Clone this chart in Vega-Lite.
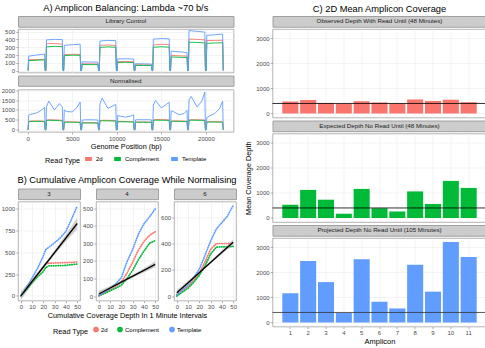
{
"$schema": "https://vega.github.io/schema/vega-lite/v6.json",
"padding": {"left": 0, "top": 3, "right": 0, "bottom": 0},
"background": "white",
"config": {
  "font": "Liberation Sans",
  "view": {"stroke": "#A0A0A0", "strokeWidth": 0.8},
  "axis": {"domain": false, "labelFontSize": 6, "labelColor": "#4D4D4D", "tickColor": "#7F7F7F", "tickSize": 2.2, "tickWidth": 0.6, "labelPadding": 1.2, "gridColor": "#EBEBEB", "gridWidth": 0.6, "titleFontSize": 7.3, "titleFontWeight": "normal", "titleColor": "#000000", "titlePadding": 1.5, "labelFlush": false, "labelOverlap": false},
  "title": {"fontSize": 9.3, "fontWeight": "normal", "color": "#000000"},
  "legend": {"layout": {"bottom": {"anchor": "middle"}}}
},
"datasets": {
  "lc": [
    {"pos":30,"2d":0,"Complement":0,"Template":0},
    {"pos":100,"2d":140,"Complement":128,"Template":185},
    {"pos":980,"2d":142,"Complement":132,"Template":200},
    {"pos":1880,"2d":145,"Complement":138,"Template":212},
    {"pos":1950,"2d":0,"Complement":0,"Template":0},
    {"pos":2030,"2d":0,"Complement":0,"Template":0},
    {"pos":2100,"2d":345,"Complement":305,"Template":395},
    {"pos":2980,"2d":348,"Complement":312,"Template":402},
    {"pos":3880,"2d":340,"Complement":308,"Template":398},
    {"pos":3950,"2d":0,"Complement":0,"Template":0},
    {"pos":4030,"2d":0,"Complement":0,"Template":0},
    {"pos":4100,"2d":205,"Complement":192,"Template":325},
    {"pos":4980,"2d":210,"Complement":198,"Template":332},
    {"pos":5880,"2d":208,"Complement":196,"Template":340},
    {"pos":5950,"2d":0,"Complement":0,"Template":0},
    {"pos":6030,"2d":0,"Complement":0,"Template":0},
    {"pos":6100,"2d":88,"Complement":78,"Template":112},
    {"pos":6980,"2d":87,"Complement":77,"Template":110},
    {"pos":7880,"2d":85,"Complement":76,"Template":108},
    {"pos":7950,"2d":0,"Complement":0,"Template":0},
    {"pos":8030,"2d":0,"Complement":0,"Template":0},
    {"pos":8100,"2d":325,"Complement":298,"Template":380},
    {"pos":8980,"2d":330,"Complement":305,"Template":388},
    {"pos":9880,"2d":322,"Complement":300,"Template":385},
    {"pos":9950,"2d":0,"Complement":0,"Template":0},
    {"pos":10030,"2d":0,"Complement":0,"Template":0},
    {"pos":10100,"2d":115,"Complement":104,"Template":150},
    {"pos":10980,"2d":117,"Complement":106,"Template":152},
    {"pos":11880,"2d":114,"Complement":103,"Template":148},
    {"pos":11950,"2d":0,"Complement":0,"Template":0},
    {"pos":12030,"2d":0,"Complement":0,"Template":0},
    {"pos":12100,"2d":75,"Complement":66,"Template":88},
    {"pos":12980,"2d":74,"Complement":65,"Template":86},
    {"pos":13880,"2d":72,"Complement":64,"Template":84},
    {"pos":13950,"2d":0,"Complement":0,"Template":0},
    {"pos":14030,"2d":0,"Complement":0,"Template":0},
    {"pos":14100,"2d":330,"Complement":300,"Template":405},
    {"pos":14980,"2d":338,"Complement":306,"Template":412},
    {"pos":15880,"2d":335,"Complement":302,"Template":408},
    {"pos":15950,"2d":0,"Complement":0,"Template":0},
    {"pos":16030,"2d":0,"Complement":0,"Template":0},
    {"pos":16100,"2d":195,"Complement":175,"Template":250},
    {"pos":16980,"2d":190,"Complement":171,"Template":242},
    {"pos":17880,"2d":186,"Complement":168,"Template":232},
    {"pos":17950,"2d":0,"Complement":0,"Template":0},
    {"pos":18030,"2d":0,"Complement":0,"Template":0},
    {"pos":18100,"2d":405,"Complement":365,"Template":515},
    {"pos":18980,"2d":402,"Complement":362,"Template":505},
    {"pos":19880,"2d":395,"Complement":356,"Template":495},
    {"pos":19950,"2d":0,"Complement":0,"Template":0},
    {"pos":20030,"2d":0,"Complement":0,"Template":0},
    {"pos":20100,"2d":385,"Complement":350,"Template":455},
    {"pos":20980,"2d":388,"Complement":355,"Template":460},
    {"pos":21880,"2d":390,"Complement":358,"Template":470},
    {"pos":21950,"2d":0,"Complement":0,"Template":0}
  ],
  "norm": [
    {"pos":30,"2d":0,"Complement":0,"Template":0},
    {"pos":100,"2d":430,"Complement":400,"Template":740},
    {"pos":350,"2d":445,"Complement":420,"Template":780},
    {"pos":1000,"2d":450,"Complement":425,"Template":850},
    {"pos":1550,"2d":445,"Complement":420,"Template":1000},
    {"pos":1880,"2d":435,"Complement":410,"Template":1120},
    {"pos":1950,"2d":0,"Complement":0,"Template":0},
    {"pos":2030,"2d":0,"Complement":0,"Template":0},
    {"pos":2100,"2d":495,"Complement":470,"Template":1150},
    {"pos":2350,"2d":505,"Complement":480,"Template":1450},
    {"pos":3000,"2d":500,"Complement":470,"Template":1000},
    {"pos":3550,"2d":490,"Complement":460,"Template":1320},
    {"pos":3880,"2d":480,"Complement":450,"Template":1150},
    {"pos":3950,"2d":0,"Complement":0,"Template":0},
    {"pos":4030,"2d":0,"Complement":0,"Template":0},
    {"pos":4100,"2d":400,"Complement":380,"Template":1000},
    {"pos":4350,"2d":405,"Complement":385,"Template":920},
    {"pos":5000,"2d":400,"Complement":380,"Template":900},
    {"pos":5550,"2d":395,"Complement":375,"Template":1150},
    {"pos":5880,"2d":390,"Complement":370,"Template":1400},
    {"pos":5950,"2d":0,"Complement":0,"Template":0},
    {"pos":6030,"2d":0,"Complement":0,"Template":0},
    {"pos":6100,"2d":355,"Complement":340,"Template":480},
    {"pos":6350,"2d":360,"Complement":345,"Template":500},
    {"pos":7000,"2d":360,"Complement":345,"Template":505},
    {"pos":7550,"2d":355,"Complement":340,"Template":500},
    {"pos":7880,"2d":350,"Complement":335,"Template":490},
    {"pos":7950,"2d":0,"Complement":0,"Template":0},
    {"pos":8030,"2d":0,"Complement":0,"Template":0},
    {"pos":8100,"2d":465,"Complement":440,"Template":1300},
    {"pos":8350,"2d":480,"Complement":455,"Template":1600},
    {"pos":9000,"2d":475,"Complement":450,"Template":1080},
    {"pos":9550,"2d":470,"Complement":445,"Template":1200},
    {"pos":9880,"2d":460,"Complement":440,"Template":1280},
    {"pos":9950,"2d":0,"Complement":0,"Template":0},
    {"pos":10030,"2d":0,"Complement":0,"Template":0},
    {"pos":10100,"2d":420,"Complement":400,"Template":720},
    {"pos":10350,"2d":425,"Complement":405,"Template":690},
    {"pos":11000,"2d":420,"Complement":400,"Template":640},
    {"pos":11550,"2d":415,"Complement":395,"Template":690},
    {"pos":11880,"2d":410,"Complement":390,"Template":760},
    {"pos":11950,"2d":0,"Complement":0,"Template":0},
    {"pos":12030,"2d":0,"Complement":0,"Template":0},
    {"pos":12100,"2d":390,"Complement":375,"Template":500},
    {"pos":12350,"2d":395,"Complement":380,"Template":510},
    {"pos":13000,"2d":395,"Complement":380,"Template":505},
    {"pos":13550,"2d":392,"Complement":378,"Template":510},
    {"pos":13880,"2d":390,"Complement":375,"Template":500},
    {"pos":13950,"2d":0,"Complement":0,"Template":0},
    {"pos":14030,"2d":0,"Complement":0,"Template":0},
    {"pos":14100,"2d":505,"Complement":470,"Template":1250},
    {"pos":14350,"2d":520,"Complement":485,"Template":1480},
    {"pos":15000,"2d":515,"Complement":480,"Template":1100},
    {"pos":15550,"2d":510,"Complement":475,"Template":1280},
    {"pos":15880,"2d":500,"Complement":470,"Template":1380},
    {"pos":15950,"2d":0,"Complement":0,"Template":0},
    {"pos":16030,"2d":0,"Complement":0,"Template":0},
    {"pos":16100,"2d":440,"Complement":420,"Template":950},
    {"pos":16350,"2d":450,"Complement":430,"Template":920},
    {"pos":17000,"2d":445,"Complement":425,"Template":760},
    {"pos":17550,"2d":440,"Complement":420,"Template":820},
    {"pos":17880,"2d":435,"Complement":415,"Template":980},
    {"pos":17950,"2d":0,"Complement":0,"Template":0},
    {"pos":18030,"2d":0,"Complement":0,"Template":0},
    {"pos":18100,"2d":495,"Complement":470,"Template":1500},
    {"pos":18350,"2d":510,"Complement":485,"Template":1680},
    {"pos":19000,"2d":505,"Complement":480,"Template":1150},
    {"pos":19550,"2d":500,"Complement":475,"Template":1450},
    {"pos":19880,"2d":490,"Complement":470,"Template":1900},
    {"pos":19950,"2d":0,"Complement":0,"Template":0},
    {"pos":20030,"2d":0,"Complement":0,"Template":0},
    {"pos":20100,"2d":400,"Complement":380,"Template":620},
    {"pos":20350,"2d":410,"Complement":390,"Template":680},
    {"pos":21000,"2d":410,"Complement":390,"Template":820},
    {"pos":21550,"2d":405,"Complement":385,"Template":1080},
    {"pos":21880,"2d":400,"Complement":380,"Template":1450},
    {"pos":21950,"2d":0,"Complement":0,"Template":0}
  ],
  "b3": [
    {"m":0,"2d":0,"Complement":0,"Template":0},
    {"m":5,"2d":80,"Complement":70,"Template":100},
    {"m":10,"2d":165,"Complement":150,"Template":205},
    {"m":15,"2d":250,"Complement":220,"Template":320},
    {"m":20,"2d":330,"Complement":280,"Template":460},
    {"m":22,"2d":370,"Complement":325,"Template":530},
    {"m":25,"2d":375,"Complement":345,"Template":560},
    {"m":30,"2d":378,"Complement":345,"Template":610},
    {"m":35,"2d":380,"Complement":348,"Template":665},
    {"m":40,"2d":382,"Complement":350,"Template":740},
    {"m":45,"2d":385,"Complement":358,"Template":880},
    {"m":50,"2d":390,"Complement":365,"Template":1030}
  ],
  "b4": [
    {"m":0,"2d":3,"Complement":2,"Template":3},
    {"m":5,"2d":18,"Complement":15,"Template":22},
    {"m":10,"2d":35,"Complement":30,"Template":45},
    {"m":15,"2d":55,"Complement":45,"Template":70},
    {"m":20,"2d":80,"Complement":62,"Template":105},
    {"m":25,"2d":130,"Complement":100,"Template":195},
    {"m":30,"2d":192,"Complement":146,"Template":265},
    {"m":35,"2d":260,"Complement":205,"Template":350},
    {"m":40,"2d":310,"Complement":255,"Template":410},
    {"m":45,"2d":345,"Complement":300,"Template":450},
    {"m":50,"2d":365,"Complement":315,"Template":495}
  ],
  "b6": [
    {"m":0,"2d":10,"Complement":0,"Template":10},
    {"m":5,"2d":40,"Complement":30,"Template":45},
    {"m":10,"2d":75,"Complement":60,"Template":85},
    {"m":15,"2d":120,"Complement":105,"Template":140},
    {"m":20,"2d":172,"Complement":158,"Template":205},
    {"m":25,"2d":260,"Complement":230,"Template":310},
    {"m":30,"2d":355,"Complement":320,"Template":420},
    {"m":35,"2d":400,"Complement":372,"Template":510},
    {"m":40,"2d":400,"Complement":375,"Template":560},
    {"m":45,"2d":400,"Complement":375,"Template":610},
    {"m":50,"2d":402,"Complement":378,"Template":690}
  ],
  "f3": [
    {"m":0,"fit":0,"lo":-50,"hi":50},
    {"m":10,"fit":166,"lo":134,"hi":198},
    {"m":25,"fit":415,"lo":395,"hi":435},
    {"m":40,"fit":664,"lo":624,"hi":704},
    {"m":50,"fit":830,"lo":765,"hi":895}
  ],
  "f4": [
    {"m":0,"fit":12,"lo":-6,"hi":30},
    {"m":10,"fit":46,"lo":34,"hi":58},
    {"m":25,"fit":96,"lo":89,"hi":103},
    {"m":40,"fit":146,"lo":134,"hi":158},
    {"m":50,"fit":180,"lo":162,"hi":198}
  ],
  "f6": [
    {"m":0,"fit":25,"lo":3,"hi":47},
    {"m":10,"fit":102,"lo":87,"hi":117},
    {"m":25,"fit":218,"lo":209,"hi":227},
    {"m":40,"fit":333,"lo":318,"hi":348},
    {"m":50,"fit":410,"lo":388,"hi":432}
  ],
  "amp": [
    {"amp":1,"obs":480,"exp":530,"proj":1170},
    {"amp":2,"obs":540,"exp":1120,"proj":2450},
    {"amp":3,"obs":420,"exp":730,"proj":1610},
    {"amp":4,"obs":390,"exp":170,"proj":380},
    {"amp":5,"obs":490,"exp":1160,"proj":2520},
    {"amp":6,"obs":440,"exp":390,"proj":830},
    {"amp":7,"obs":400,"exp":260,"proj":560},
    {"amp":8,"obs":560,"exp":1060,"proj":2300},
    {"amp":9,"obs":500,"exp":560,"proj":1230},
    {"amp":10,"obs":550,"exp":1480,"proj":3210},
    {"amp":11,"obs":450,"exp":1200,"proj":2610}
  ],
  "thr": [{"thr": 400}]
},
"resolve": {"scale": {"color": "independent"}, "legend": {"color": "independent"}},
"spacing": 5.5,
"hconcat": [
  {
    "spacing": 7.5,
    "resolve": {"scale": {"color": "independent"}, "legend": {"color": "independent"}},
    "vconcat": [
      {
        "spacing": 0.5,
        "resolve": {"scale": {"color": "independent"}, "legend": {"color": "independent"}},
        "vconcat": [
          {
            "spacing": 0,
            "resolve": {"scale": {"color": "independent"}, "legend": {"color": "independent"}},
            "vconcat": [
              {"width": 215.5, "height": 10.7,
               "title": {"text": "A) Amplicon Balancing: Lambda ~70 b/s", "offset": 3},
               "data": {"values": [{"label": "Library Control"}]},
               "mark": {"type": "text", "fontSize": 6.2, "color": "#1A1A1A"},
               "encoding": {"text": {"field": "label", "type": "nominal"}},
               "view": {"fill": "#CCCCCC", "stroke": "#A0A0A0"}},
              {"width": 215.5, "height": 43.5,
               "data": {"name": "lc"},
               "transform": [{"fold": ["2d", "Complement", "Template"], "as": ["Read Type", "depth"]}],
               "mark": {"type": "line", "strokeWidth": 0.9},
               "encoding": {
                 "x": {"field": "pos", "type": "quantitative", "scale": {"domain": [-1100, 23100], "nice": false}, "axis": {"values": [0, 5000, 10000, 15000, 20000], "tickCount": 20, "labels": false, "ticks": false, "title": null, "minExtent": 0, "maxExtent": 0}},
                 "y": {"field": "depth", "type": "quantitative", "scale": {"domain": [-25, 535], "nice": false}, "axis": {"values": [0, 100, 200, 300, 400, 500], "tickCount": 20, "format": "d", "title": null, "labelOverlap": false}},
                 "color": {"field": "Read Type", "type": "nominal", "scale": {"domain": ["2d", "Complement", "Template"], "range": ["#F8766D", "#00BA38", "#619CFF"]}, "legend": null}
               }}
            ]
          },
          {
            "spacing": 0,
            "resolve": {"scale": {"color": "independent"}, "legend": {"color": "independent"}},
            "vconcat": [
              {"width": 215.5, "height": 10.3,
               "data": {"values": [{"label": "Normalised"}]},
               "mark": {"type": "text", "fontSize": 6.2, "color": "#1A1A1A"},
               "encoding": {"text": {"field": "label", "type": "nominal"}},
               "view": {"fill": "#CCCCCC", "stroke": "#A0A0A0"}},
              {"width": 215.5, "height": 42.3,
               "data": {"name": "norm"},
               "transform": [{"fold": ["2d", "Complement", "Template"], "as": ["Read Type", "depth"]}],
               "mark": {"type": "line", "strokeWidth": 0.9},
               "encoding": {
                 "x": {"field": "pos", "type": "quantitative", "scale": {"domain": [-1100, 23100], "nice": false}, "axis": {"values": [0, 5000, 10000, 15000, 20000], "tickCount": 20, "format": "d", "title": "Genome Position (bp)", "labelOverlap": false}},
                 "y": {"field": "depth", "type": "quantitative", "scale": {"domain": [-100, 2030], "nice": false}, "axis": {"values": [0, 500, 1000, 1500, 2000], "tickCount": 20, "format": "d", "title": null, "labelOverlap": false}},
                 "color": {"field": "Read Type", "type": "nominal", "scale": {"domain": ["2d", "Complement", "Template"], "range": ["#F8766D", "#00BA38", "#619CFF"]},
                   "legend": {"orient": "bottom", "direction": "horizontal", "title": "Read Type", "titleOrient": "left", "titleFontSize": 7.3, "titleFontWeight": "normal", "titleColor": "#000000", "labelFontSize": 6, "labelColor": "#000000", "symbolType": "stroke", "symbolStrokeWidth": 4, "symbolSize": 45, "gridAlign": "none", "columnPadding": 3, "labelOffset": 2, "offset": 3, "padding": 0, "titlePadding": 2}}
               }}
            ]
          }
        ]
      },
      {
        "spacing": 0,
        "resolve": {"scale": {"color": "independent"}, "legend": {"color": "independent"}},
        "vconcat": [
          {
            "hconcat": [
              {"width": 62, "height": 10.6,
               "data": {"values": [{"label": "3"}]},
               "mark": {"type": "text", "fontSize": 6.2, "color": "#1A1A1A"},
               "encoding": {"text": {"field": "label", "type": "nominal"}},
               "view": {"fill": "#CCCCCC", "stroke": "#A0A0A0"}},
              {"width": 62, "height": 10.6,
               "title": {"text": "B) Cumulative Amplicon Coverage While Normalising", "offset": 3},
               "data": {"values": [{"label": "4"}]},
               "mark": {"type": "text", "fontSize": 6.2, "color": "#1A1A1A"},
               "encoding": {"text": {"field": "label", "type": "nominal"}},
               "view": {"fill": "#CCCCCC", "stroke": "#A0A0A0"}},
              {"width": 62, "height": 10.6,
               "data": {"values": [{"label": "6"}]},
               "mark": {"type": "text", "fontSize": 6.2, "color": "#1A1A1A"},
               "encoding": {"text": {"field": "label", "type": "nominal"}},
               "view": {"fill": "#CCCCCC", "stroke": "#A0A0A0"}}
            ],
            "spacing": 16, "bounds": "flush"
          },
          {
            "hconcat": [
              {"width": 62, "height": 99,
               "layer": [
                 {"data": {"name": "b3"},
                  "transform": [{"fold": ["2d", "Complement", "Template"], "as": ["Read Type", "depth"]}],
                  "mark": {"type": "line", "strokeWidth": 1.7, "strokeDash": [0.5, 1.8], "strokeCap": "round"},
                  "encoding": {
                    "x": {"field": "m", "type": "quantitative", "scale": {"domain": [-2.5, 52.5], "nice": false}, "axis": {"values": [0, 10, 20, 30, 40, 50], "tickCount": 20, "format": "d", "title": null, "labelOverlap": false}},
                    "y": {"field": "depth", "type": "quantitative", "scale": {"domain": [-52, 1082], "nice": false}, "axis": {"values": [0, 250, 500, 750, 1000], "tickCount": 20, "format": "d", "title": null, "labelOverlap": false}},
                    "color": {"field": "Read Type", "type": "nominal", "scale": {"domain": ["2d", "Complement", "Template"], "range": ["#F8766D", "#00BA38", "#619CFF"]}, "legend": null}
                  }},
                 {"data": {"name": "f3"},
                  "mark": {"type": "area", "color": "#8C8C8C", "opacity": 0.4},
                  "encoding": {"x": {"field": "m", "type": "quantitative", "title": null}, "y": {"field": "lo", "type": "quantitative", "title": null}, "y2": {"field": "hi"}}},
                 {"data": {"name": "f3"},
                  "mark": {"type": "line", "color": "#000000", "strokeWidth": 1.3},
                  "encoding": {"x": {"field": "m", "type": "quantitative", "title": null}, "y": {"field": "fit", "type": "quantitative", "title": null}}}
               ]},
              {"width": 62, "height": 99,
               "layer": [
                 {"data": {"name": "b4"},
                  "transform": [{"fold": ["2d", "Complement", "Template"], "as": ["Read Type", "depth"]}],
                  "mark": {"type": "line", "strokeWidth": 1.7, "strokeDash": [0.5, 1.8], "strokeCap": "round"},
                  "encoding": {
                    "x": {"field": "m", "type": "quantitative", "scale": {"domain": [-2.5, 52.5], "nice": false}, "axis": {"values": [0, 10, 20, 30, 40, 50], "tickCount": 20, "format": "d", "title": "Cumulative Coverage Depth In 1 Minute Intervals", "labelOverlap": false}},
                    "y": {"field": "depth", "type": "quantitative", "scale": {"domain": [-25, 537], "nice": false}, "axis": {"values": [0, 100, 200, 300, 400, 500], "tickCount": 20, "format": "d", "title": null, "labelOverlap": false}},
                    "color": {"field": "Read Type", "type": "nominal", "scale": {"domain": ["2d", "Complement", "Template"], "range": ["#F8766D", "#00BA38", "#619CFF"]},
                      "legend": {"orient": "bottom", "direction": "horizontal", "title": "Read Type", "titleOrient": "left", "titleFontSize": 7.3, "titleFontWeight": "normal", "titleColor": "#000000", "labelFontSize": 6, "labelColor": "#000000", "symbolType": "circle", "symbolSize": 10, "symbolStrokeWidth": 2.5, "symbolDash": [], "gridAlign": "none", "columnPadding": 5, "labelOffset": 2, "offset": 7, "padding": 0, "titlePadding": 4}}
                  }},
                 {"data": {"name": "f4"},
                  "mark": {"type": "area", "color": "#8C8C8C", "opacity": 0.4},
                  "encoding": {"x": {"field": "m", "type": "quantitative", "title": "Cumulative Coverage Depth In 1 Minute Intervals"}, "y": {"field": "lo", "type": "quantitative", "title": null}, "y2": {"field": "hi"}}},
                 {"data": {"name": "f4"},
                  "mark": {"type": "line", "color": "#000000", "strokeWidth": 1.3},
                  "encoding": {"x": {"field": "m", "type": "quantitative", "title": "Cumulative Coverage Depth In 1 Minute Intervals"}, "y": {"field": "fit", "type": "quantitative", "title": null}}}
               ]},
              {"width": 62, "height": 99,
               "layer": [
                 {"data": {"name": "b6"},
                  "transform": [{"fold": ["2d", "Complement", "Template"], "as": ["Read Type", "depth"]}],
                  "mark": {"type": "line", "strokeWidth": 1.7, "strokeDash": [0.5, 1.8], "strokeCap": "round"},
                  "encoding": {
                    "x": {"field": "m", "type": "quantitative", "scale": {"domain": [-2.5, 52.5], "nice": false}, "axis": {"values": [0, 10, 20, 30, 40, 50], "tickCount": 20, "format": "d", "title": null, "labelOverlap": false}},
                    "y": {"field": "depth", "type": "quantitative", "scale": {"domain": [-34, 720], "nice": false}, "axis": {"values": [0, 200, 400, 600], "tickCount": 20, "format": "d", "title": null, "labelOverlap": false}},
                    "color": {"field": "Read Type", "type": "nominal", "scale": {"domain": ["2d", "Complement", "Template"], "range": ["#F8766D", "#00BA38", "#619CFF"]}, "legend": null}
                  }},
                 {"data": {"name": "f6"},
                  "mark": {"type": "area", "color": "#8C8C8C", "opacity": 0.4},
                  "encoding": {"x": {"field": "m", "type": "quantitative", "title": null}, "y": {"field": "lo", "type": "quantitative", "title": null}, "y2": {"field": "hi"}}},
                 {"data": {"name": "f6"},
                  "mark": {"type": "line", "color": "#000000", "strokeWidth": 1.3},
                  "encoding": {"x": {"field": "m", "type": "quantitative", "title": null}, "y": {"field": "fit", "type": "quantitative", "title": null}}}
               ]}
            ],
            "spacing": 16, "bounds": "flush",
            "resolve": {"scale": {"color": "independent"}, "legend": {"color": "independent"}}
          }
        ]
      }
    ]
  },
  {
    "spacing": 1.5,
    "vconcat": [
      {"spacing": 0, "vconcat": [
        {"width": 214, "height": 10.7,
         "title": {"text": "C) 2D Mean Amplicon Coverage", "offset": 1.5},
         "data": {"values": [{"label": "Observed Depth With Read Until (48 Minutes)"}]},
         "mark": {"type": "text", "fontSize": 6.2, "color": "#1A1A1A"},
         "encoding": {"text": {"field": "label", "type": "nominal"}},
         "view": {"fill": "#CCCCCC", "stroke": "#A0A0A0"}},
        {"width": 214, "height": 88.5,
         "layer": [
           {"data": {"name": "amp"}, "mark": {"type": "bar", "color": "#F8766D"},
            "encoding": {
              "x": {"field": "amp", "type": "ordinal", "scale": {"paddingInner": 0.1, "paddingOuter": 0.55}, "axis": {"labels": false, "ticks": false, "title": null, "grid": true, "minExtent": 0, "maxExtent": 0}},
              "y": {"field": "obs", "type": "quantitative", "scale": {"domain": [-160, 3370], "nice": false, "zero": true}, "axis": {"values": [0, 1000, 2000, 3000], "tickCount": 20, "format": "d", "title": null, "labelOverlap": false}}}},
           {"data": {"name": "thr"}, "mark": {"type": "rule", "color": "#000000", "strokeWidth": 1, "opacity": 0.8},
            "encoding": {"y": {"field": "thr", "type": "quantitative", "title": null}}}
         ]}
      ]},
      {"spacing": 0, "vconcat": [
        {"width": 214, "height": 10.7,
         "data": {"values": [{"label": "Expected Depth No Read Until (48 Minutes)"}]},
         "mark": {"type": "text", "fontSize": 6.2, "color": "#1A1A1A"},
         "encoding": {"text": {"field": "label", "type": "nominal"}},
         "view": {"fill": "#CCCCCC", "stroke": "#A0A0A0"}},
        {"width": 214, "height": 88.5,
         "layer": [
           {"data": {"name": "amp"}, "mark": {"type": "bar", "color": "#00BA38"},
            "encoding": {
              "x": {"field": "amp", "type": "ordinal", "scale": {"paddingInner": 0.1, "paddingOuter": 0.55}, "axis": {"labels": false, "ticks": false, "title": null, "grid": true, "minExtent": 0, "maxExtent": 0}},
              "y": {"field": "exp", "type": "quantitative", "scale": {"domain": [-160, 3370], "nice": false, "zero": true}, "axis": {"values": [0, 1000, 2000, 3000], "tickCount": 20, "format": "d", "title": "Mean Coverage Depth", "titlePadding": 3, "labelOverlap": false}}}},
           {"data": {"name": "thr"}, "mark": {"type": "rule", "color": "#000000", "strokeWidth": 1, "opacity": 0.8},
            "encoding": {"y": {"field": "thr", "type": "quantitative", "title": "Mean Coverage Depth"}}}
         ]}
      ]},
      {"spacing": 0, "vconcat": [
        {"width": 214, "height": 10.7,
         "data": {"values": [{"label": "Projected Depth No Read Until (105 Minutes)"}]},
         "mark": {"type": "text", "fontSize": 6.2, "color": "#1A1A1A"},
         "encoding": {"text": {"field": "label", "type": "nominal"}},
         "view": {"fill": "#CCCCCC", "stroke": "#A0A0A0"}},
        {"width": 214, "height": 88.5,
         "layer": [
           {"data": {"name": "amp"}, "mark": {"type": "bar", "color": "#619CFF"},
            "encoding": {
              "x": {"field": "amp", "type": "ordinal", "scale": {"paddingInner": 0.1, "paddingOuter": 0.55}, "axis": {"labelAngle": 0, "title": "Amplicon", "grid": true, "titleFontSize": 7.5}},
              "y": {"field": "proj", "type": "quantitative", "scale": {"domain": [-160, 3370], "nice": false, "zero": true}, "axis": {"values": [0, 1000, 2000, 3000], "tickCount": 20, "format": "d", "title": null, "labelOverlap": false}}}},
           {"data": {"name": "thr"}, "mark": {"type": "rule", "color": "#333333", "strokeWidth": 1, "opacity": 0.8},
            "encoding": {"y": {"field": "thr", "type": "quantitative", "title": null}}}
         ]}
      ]}
    ]
  }
]
}
